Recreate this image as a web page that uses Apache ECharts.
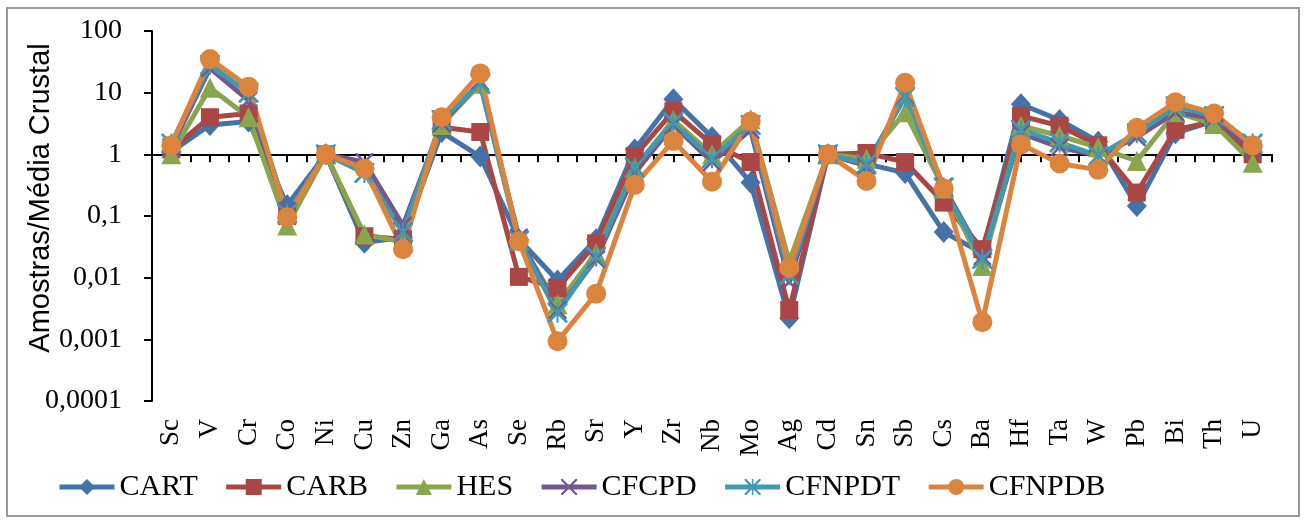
<!DOCTYPE html>
<html>
<head>
<meta charset="utf-8">
<script src="https://cdn.jsdelivr.net/npm/echarts@6/dist/echarts.min.js"></script>
<style>html,body{margin:0;padding:0;background:#fff;}#c{width:1306px;height:520px;}</style>
</head>
<body>
<div id="c"></div>
<script>
var categories = ['Sc','V','Cr','Co','Ni','Cu','Zn','Ga','As','Se','Rb','Sr','Y','Zr','Nb','Mo','Ag','Cd','Sn','Sb','Cs','Ba','Hf','Ta','W','Pb','Bi','Th','U'];
var seriesNames = ['CART','CARB','HES','CFCPD','CFNPDT','CFNPDB'];
var CART   = [1.1, 3.0, 3.4, 0.15, 1.0, 0.037, 0.045, 2.3, 0.92, 0.042, 0.0090, 0.042, 1.2, 7.8, 1.9, 0.35, 0.0022, 1.0, 0.7, 0.5, 0.055, 0.025, 6.5, 3.6, 1.6, 0.145, 2.2, 3.5, 1.3];
var CARB   = [1.2, 4.0, 4.6, 0.10, 1.0, 0.047, 0.042, 2.75, 2.3, 0.0103, 0.0068, 0.036, 0.94, 5.0, 1.45, 0.75, 0.0030, 1.0, 1.05, 0.75, 0.165, 0.029, 4.2, 2.9, 1.4, 0.24, 2.5, 3.4, 1.0];
var HES    = [1.0, 12, 4.0, 0.07, 1.0, 0.05, 0.038, 3.0, 14, 0.04, 0.0037, 0.025, 0.6, 3.6, 1.0, 3.7, 0.018, 1.0, 0.85, 4.8, 0.28, 0.0155, 2.9, 2.0, 1.3, 0.78, 4.8, 3.1, 0.73];
var CFCPD  = [1.3, 25, 7.5, 0.12, 1.0, 0.75, 0.07, 3.2, 15, 0.045, 0.0030, 0.020, 0.5, 3.0, 0.75, 2.5, 0.0085, 1.0, 0.65, 9, 0.30, 0.022, 2.2, 1.3, 0.95, 1.9, 4.8, 3.8, 1.2];
var CFNPDT = [1.5, 28, 10, 0.11, 1.0, 0.5, 0.055, 3.6, 14, 0.04, 0.0027, 0.022, 0.62, 3.3, 0.86, 3.0, 0.011, 1.0, 0.7, 8.5, 0.29, 0.020, 2.5, 1.55, 0.95, 2.2, 6.0, 4.2, 1.5];
var CFNPDB = [1.4, 35, 12.5, 0.095, 1.0, 0.59, 0.029, 4.0, 20.5, 0.039, 0.00093, 0.0055, 0.32, 1.65, 0.36, 3.4, 0.0145, 1.0, 0.37, 14.5, 0.28, 0.0019, 1.45, 0.71, 0.56, 2.7, 7.0, 4.6, 1.4];
var yTickLabels = {'-4':'0,0001','-3':'0,001','-2':'0,01','-1':'0,1','0':'1','1':'10','2':'100'};

var colors = ['#4572A7','#AA4643','#89A54E','#71588F','#4198AF','#DB843D'];
var xPath = 'path://M0,0 L2,0 L10,8 L18,0 L20,0 L20,2 L12,10 L20,18 L20,20 L18,20 L10,12 L2,20 L0,20 L0,18 L8,10 L0,2 Z';
var starPath = 'path://M0,0 L2,0 L10,8 L18,0 L20,0 L20,2 L12,10 L20,18 L20,20 L18,20 L10,12 L2,20 L0,20 L0,18 L8,10 L0,2 Z M9,0 L11,0 L11,20 L9,20 Z';
var symbols = ['diamond','rect','triangle',xPath,starPath,'circle'];
var sizes = [[20,22],18,20,18,20,20];
var dataArr = [CART,CARB,HES,CFCPD,CFNPDT,CFNPDB];

var serif = 'Liberation Serif';
var chart = echarts.init(document.getElementById('c'), null, {renderer:'canvas'});

var series = seriesNames.map(function(n,i){
  return {
    name:n, type:'line', xAxisIndex:0, yAxisIndex:0,
    data:dataArr[i], symbol:symbols[i], symbolSize:sizes[i], showSymbol:true,
    lineStyle:{width:5,color:colors[i]}, itemStyle:{color:colors[i]},
    emphasis:{disabled:true}, animation:false, z:2
  };
});

var option = {
  animation:false,
  color:colors,
  graphic:[{type:'rect', shape:{x:7,y:8,width:1292,height:508}, style:{fill:'none',stroke:'#9a9a9a',lineWidth:2}, z:-1}],
  grid:[
    {left:152, top:31, width:1120, height:370, containLabel:false, outerBoundsMode:'none'},
    {left:152, top:145, width:1120, height:10, containLabel:false, outerBoundsMode:'none'},
    {left:152, top:20, width:1120, height:356, containLabel:false, outerBoundsMode:'none'}
  ],
  xAxis:[
    {type:'category', gridIndex:0, data:categories, boundaryGap:true,
     axisLine:{show:false}, axisTick:{show:false}, splitLine:{show:false},
     axisLabel:{interval:0, rotate:90, margin:18, color:'#000', fontFamily:serif, fontSize:27}},
    {type:'value', gridIndex:1, min:-0.5, max:28.5, interval:0.5,
     axisLine:{show:true, lineStyle:{color:'#000', width:2}},
     axisTick:{show:true, length:8, lineStyle:{color:'#000', width:2}},
     axisLabel:{show:false}, splitLine:{show:false}},
    {type:'value', gridIndex:2, show:false, min:0, max:1}
  ],
  yAxis:[
    {type:'log', gridIndex:0, position:'left', logBase:10, min:0.0001, max:100,
     axisLine:{show:true, lineStyle:{color:'#000', width:2}},
     axisTick:{show:true, length:8, lineStyle:{color:'#000', width:2}},
     splitLine:{show:false}, minorTick:{show:false},
     axisLabel:{margin:30, color:'#000', fontFamily:serif, fontSize:28,
       formatter:function(v){ var e = Math.round(Math.log(v)/Math.LN10); return yTickLabels[String(e)]; }}},
    {type:'value', gridIndex:1, show:false, min:0, max:1},
    {type:'value', gridIndex:2, position:'left', min:0, max:1, z:10,
     axisLine:{show:false}, axisTick:{show:false}, axisLabel:{show:false}, splitLine:{show:false},
     name:'Amostras/Média Crustal', nameLocation:'middle', nameGap:94,
     nameTextStyle:{fontFamily:'Liberation Sans', fontSize:29, color:'#000', backgroundColor:'#fff', lineHeight:34}}
  ],
  legend:{
    data:seriesNames, left:52, top:467, itemGap:26, itemWidth:55, itemHeight:20,
    lineStyle:{width:5},
    textStyle:{fontFamily:serif, fontSize:30, color:'#000'},
    selectedMode:false
  },
  series:series
};
chart.setOption(option);
var y1 = chart.convertToPixel({yAxisIndex:0}, 1);
chart.setOption({grid:[{}, {top:y1-10, height:10}, {}]});
</script>
</body>
</html>
